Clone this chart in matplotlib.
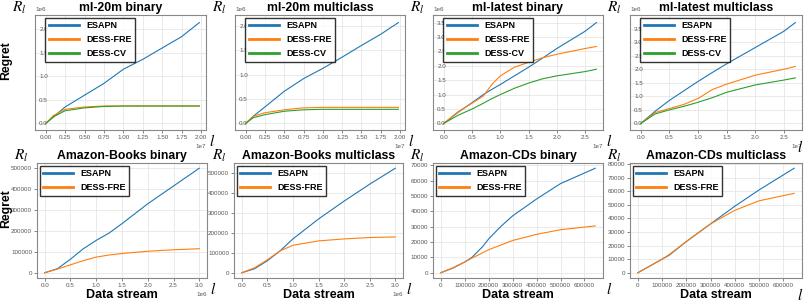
import numpy as np
import matplotlib.pyplot as plt

plt.rcParams['font.family'] = ['Liberation Sans', 'DejaVu Sans']
plt.rcParams['mathtext.fontset'] = 'stix'

titles = ["ml-20m binary", "ml-20m multiclass", "ml-latest binary", "ml-latest multiclass",
          "Amazon-Books binary", "Amazon-Books multiclass", "Amazon-CDs binary", "Amazon-CDs multiclass"]

# ml-20m binary (x in 1e7, y in 1e6)
m20b_x = [0, 0.1, 0.25, 0.5, 0.75, 1.0, 1.25, 1.5, 1.75, 1.98]
m20b_esapn = [0, 0.14, 0.35, 0.6, 0.85, 1.15, 1.36, 1.6, 1.84, 2.14]
m20b_fre = [0, 0.17, 0.3, 0.35, 0.37, 0.37, 0.37, 0.37, 0.37, 0.37]
m20b_cv = [0, 0.14, 0.27, 0.33, 0.36, 0.37, 0.37, 0.37, 0.37, 0.37]

# ml-20m multiclass
m20m_x = [0, 0.1, 0.25, 0.5, 0.75, 1.0, 1.25, 1.5, 1.75, 1.98]
m20m_esapn = [0, 0.15, 0.34, 0.66, 0.92, 1.13, 1.36, 1.6, 1.83, 2.07]
m20m_fre = [0, 0.15, 0.22, 0.28, 0.32, 0.33, 0.33, 0.33, 0.33, 0.33]
m20m_cv = [0, 0.12, 0.18, 0.25, 0.28, 0.29, 0.29, 0.29, 0.29, 0.29]

# ml-latest binary
mlb_x = [0, 0.25, 0.5, 0.7, 0.85, 1.0, 1.25, 1.5, 1.75, 2.0, 2.5, 2.7]
mlb_esapn = [0, 0.38, 0.72, 1.0, 1.18, 1.35, 1.65, 1.95, 2.27, 2.6, 3.2, 3.5]
mlb_fre = [0, 0.4, 0.7, 0.95, 1.35, 1.65, 1.95, 2.12, 2.28, 2.4, 2.6, 2.67]
mlb_cv = [0, 0.28, 0.5, 0.7, 0.86, 1.0, 1.22, 1.4, 1.55, 1.65, 1.8, 1.88]

# ml-latest multiclass
mlm_x = [0, 0.25, 0.5, 0.75, 1.0, 1.25, 1.5, 2.0, 2.5, 2.7]
mlm_esapn = [0, 0.45, 0.85, 1.2, 1.55, 1.88, 2.2, 2.8, 3.4, 3.72]
mlm_fre = [0, 0.4, 0.55, 0.7, 0.92, 1.25, 1.45, 1.78, 2.0, 2.1]
mlm_cv = [0, 0.35, 0.5, 0.63, 0.78, 0.95, 1.15, 1.42, 1.6, 1.68]

# Amazon-Books binary (x in 1e6)
abb_x = [0, 0.25, 0.5, 0.75, 1.0, 1.25, 1.5, 2.0, 2.5, 3.0]
abb_esapn = [0, 20000, 65000, 115000, 155000, 190000, 235000, 330000, 415000, 500000]
abb_fre = [0, 18000, 38000, 58000, 75000, 85000, 92000, 103000, 110000, 115000]

# Amazon-Books multiclass
abm_x = [0, 0.25, 0.5, 0.75, 1.0, 1.5, 2.0, 2.5, 3.0]
abm_esapn = [0, 20000, 60000, 110000, 170000, 270000, 360000, 445000, 525000]
abm_fre = [0, 25000, 65000, 110000, 138000, 160000, 170000, 177000, 180000]

# Amazon-CDs binary
acb_x = [0, 50000, 100000, 130000, 175000, 200000, 250000, 300000, 400000, 500000, 645000]
acb_esapn = [0, 3000, 7000, 10000, 17000, 22000, 30000, 37000, 48000, 58000, 68000]
acb_fre = [0, 3200, 7000, 9500, 13000, 15000, 18000, 21000, 25000, 28000, 30500]

# Amazon-CDs multiclass
acm_x = [0, 50000, 100000, 130000, 200000, 300000, 400000, 500000, 645000]
acm_esapn = [0, 5000, 10000, 13000, 23000, 36000, 49000, 61000, 77000]
acm_fre = [0, 5000, 10000, 13500, 23000, 36000, 46000, 53000, 58500]

panels = [
    (m20b_x, [m20b_esapn, m20b_fre, m20b_cv], 1e7, 1e6),
    (m20m_x, [m20m_esapn, m20m_fre, m20m_cv], 1e7, 1e6),
    (mlb_x, [mlb_esapn, mlb_fre, mlb_cv], 1e7, 1e6),
    (mlm_x, [mlm_esapn, mlm_fre, mlm_cv], 1e7, 1e6),
    (abb_x, [abb_esapn, abb_fre], 1e6, 1),
    (abm_x, [abm_esapn, abm_fre], 1e6, 1),
    (acb_x, [acb_esapn, acb_fre], 1, 1),
    (acm_x, [acm_esapn, acm_fre], 1, 1),
]
names = ["ESAPN", "DESS-FRE", "DESS-CV"]
colors = ["#1f77b4", "#ff7f0e", "#2ca02c"]

fig = plt.figure(figsize=(8.05, 3.01), dpi=100)
W, H = 805, 301
lefts = [[35, 235, 433, 630], [37, 234, 433, 630]]
rights = [[206, 405, 603, 802], [207, 403, 603, 802]]
tops = [15, 163]
ah = 115

for i, (xs, ys, xsc, ysc) in enumerate(panels):
    r, c = divmod(i, 4)
    l0, r0 = lefts[r][c], rights[r][c]
    ax = fig.add_axes([l0 / W, 1 - (tops[r] + ah) / H, (r0 - l0) / W, ah / H])
    for j, y in enumerate(ys):
        ax.plot(np.array(xs) * xsc, np.array(y) * ysc, color=colors[j], lw=0.8, label=names[j])
    ax.grid(True, color="#e6e6e6", lw=0.6)
    ax.set_axisbelow(True)
    for s in ax.spines.values():
        s.set_color("#888888")
        s.set_linewidth(0.8)
    ax.tick_params(labelsize=4.5, length=2, width=0.5, colors="#555555", pad=1.5)
    anchor = (0, 1)
    if r == 0:
        # y tick labels sit inside the frame on the top row
        xmax = max(xs) * xsc
        ax.set_xlim(-0.07 * xmax, 1.043 * xmax)
        ymax = max(max(y) for y in ys) * ysc
        ax.set_ylim(-0.065 * ymax, 1.075 * ymax)
        ax.tick_params(axis="y", direction="in", pad=-3, length=0)
        for lb in ax.get_yticklabels():
            lb.set_horizontalalignment("left")
        anchor = (0.045, 1)
    ax.xaxis.get_offset_text().set_fontsize(4.5)
    ax.yaxis.get_offset_text().set_fontsize(4.5)
    ax.xaxis.get_offset_text().set_color("#555555")
    ax.yaxis.get_offset_text().set_color("#555555")
    ax.set_title(titles[i], fontsize=8.8, fontweight="bold", pad=3)
    leg = ax.legend(loc="upper left", bbox_to_anchor=anchor, prop={"weight": "bold", "size": 6.5},
                    frameon=True, fancybox=False, handlelength=3.3, borderpad=0.4,
                    labelspacing=0.55, borderaxespad=0.3)
    leg.get_frame().set_edgecolor("black")
    leg.get_frame().set_linewidth(1.0)
    for ln in leg.get_lines():
        ln.set_linewidth(2)
    ax.text(-0.09, 1.06, "$R_l$", transform=ax.transAxes, fontsize=11, ha="center", va="center")
    if c == 3:
        ax.text(0.99, -0.15, "$l$", transform=ax.transAxes, fontsize=11, ha="center", va="center")
    else:
        ax.text(1.035, -0.1, "$l$", transform=ax.transAxes, fontsize=11, ha="center", va="center")
    if c == 0:
        ax.set_ylabel("Regret", fontsize=8.8, fontweight="bold")
        ax.yaxis.set_label_coords((12 - l0) / (r0 - l0), 0.6)
    if r == 1:
        ax.set_xlabel("Data stream", fontsize=9, fontweight="bold", labelpad=1)

fig.savefig("out.png", dpi=100)
